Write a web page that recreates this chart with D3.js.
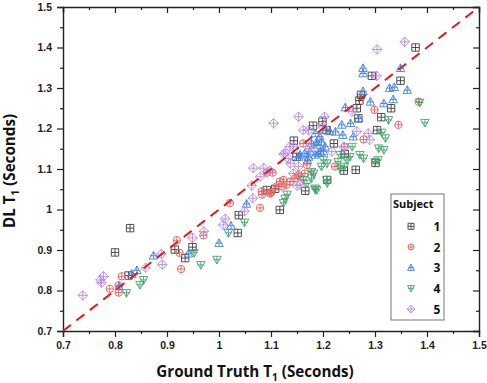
<!DOCTYPE html>
<html>
<head>
<meta charset="utf-8">
<script src="https://cdn.jsdelivr.net/npm/d3@7"></script>
<style>
  body { margin: 0; background: #fff; }
  svg { font-family: "Open Sans", sans-serif; }
  .ticklab { font-size: 10.5px; font-weight: bold; fill: #222; }
  .title { font-size: 15.2px; font-weight: bold; fill: #111; }
  .legend { font-size: 12px; font-weight: bold; fill: #111; }
</style>
</head>
<body>
<svg id="chart" width="487" height="383"></svg>
<script>
// subjects and colours
const subjects = ["1", "2", "3", "4", "5"];
const colors = ["#3c3c3c", "#e8605c", "#4382e0", "#48a46c", "#b48ae6"];
const shapes = ["square", "circle", "up", "down", "diamond"];

const tickValues = [0.7, 0.8, 0.9, 1.0, 1.1, 1.2, 1.3, 1.4, 1.5];
const tickLabels = ["0.7", "0.8", "0.9", "1", "1.1", "1.2", "1.3", "1.4", "1.5"];
const minorValues = [0.75, 0.85, 0.95, 1.05, 1.15, 1.25, 1.35, 1.45];

// [ground truth T1, DL T1]
const subject1 = [[0.800,0.894],[0.829,0.954],[0.826,0.837],[0.915,0.901],[0.935,0.880],[0.949,0.907],
  [1.036,0.942],[1.038,0.986],[1.092,1.048],[1.108,1.051],[1.117,0.999],[1.166,1.046],[1.144,1.170],
  [1.149,1.130],[1.181,1.207],[1.199,1.217],[1.207,1.196],[1.221,1.163],[1.242,1.137],[1.240,1.096],
  [1.263,1.098],[1.208,1.073],[1.301,1.115],[1.304,1.196],[1.312,1.228],[1.331,1.250],[1.265,1.250],
  [1.268,1.225],[1.270,1.269],[1.273,1.283],[1.294,1.330],[1.349,1.318],[1.378,1.400]];
const subject2 = [[0.790,0.804],[0.807,0.795],[0.807,0.813],[0.813,0.835],[0.919,0.924],[0.924,0.893],
  [0.927,0.853],[0.970,0.936],[1.021,1.016],[1.079,1.004],[1.083,1.037],[1.099,1.041],[1.092,1.091],
  [1.103,1.091],[1.082,1.045],[1.101,1.044],[1.117,1.069],[1.130,1.061],[1.137,1.069],[1.146,1.077],
  [1.156,1.081],[1.165,1.089],[1.121,1.057],[1.162,1.163],[1.242,1.155],[1.278,1.173],[1.345,1.209],
  [1.384,1.266],[1.299,1.246],[1.223,1.106],[1.169,1.110],[1.124,1.073],[1.111,1.057],[1.098,1.040],
  [1.153,1.085]];
const subject3 = [[0.808,0.810],[0.832,0.841],[0.842,0.850],[0.874,0.886],[0.941,0.891],[1.000,0.917],
  [1.023,0.960],[1.053,1.014],[1.153,1.130],[1.165,1.139],[1.170,1.122],[1.156,1.135],[1.185,1.135],
  [1.195,1.143],[1.188,1.160],[1.172,1.130],[1.175,1.143],[1.178,1.163],[1.185,1.188],[1.194,1.180],
  [1.197,1.167],[1.188,1.167],[1.204,1.155],[1.201,1.143],[1.191,1.139],[1.205,1.196],[1.224,1.192],
  [1.238,1.184],[1.258,1.180],[1.236,1.209],[1.253,1.213],[1.269,1.225],[1.243,1.252],[1.277,1.292],
  [1.291,1.266],[1.317,1.262],[1.335,1.272],[1.328,1.300],[1.337,1.302],[1.362,1.295],[1.349,1.349],
  [1.277,1.349],[1.277,1.336],[1.213,1.193]];
const subject4 = [[0.822,0.794],[0.848,0.814],[0.855,0.826],[0.952,0.893],[0.965,0.863],[0.996,0.876],
  [1.018,0.942],[1.049,0.968],[1.124,1.016],[1.131,1.037],[1.127,1.027],[1.185,1.049],[1.208,1.065],
  [1.169,1.064],[1.188,1.048],[1.178,1.077],[1.182,1.089],[1.207,1.073],[1.197,1.106],[1.201,1.122],
  [1.208,1.114],[1.233,1.135],[1.229,1.118],[1.233,1.101],[1.241,1.106],[1.246,1.122],[1.256,1.155],
  [1.252,1.130],[1.271,1.135],[1.278,1.126],[1.300,1.118],[1.306,1.122],[1.307,1.151],[1.317,1.147],
  [1.320,1.176],[1.313,1.190],[1.326,1.221],[1.386,1.264],[1.396,1.214],[1.162,1.073],[1.185,1.052],
  [1.178,1.093]];
const subject5 = [[0.738,0.788],[0.772,0.826],[0.778,0.835],[0.774,0.819],[0.859,0.856],[0.891,0.864],
  [0.889,0.890],[0.949,0.930],[0.971,0.946],[1.012,0.977],[1.008,0.962],[1.049,0.996],[1.065,1.028],
  [1.063,1.059],[1.150,1.059],[1.066,1.102],[1.079,1.081],[1.098,1.096],[1.086,1.102],[1.105,1.213],
  [1.153,1.229],[1.124,1.137],[1.136,1.155],[1.127,1.139],[1.143,1.155],[1.137,1.114],[1.153,1.106],
  [1.156,1.061],[1.133,1.126],[1.143,1.089],[1.162,1.196],[1.172,1.196],[1.203,1.229],[1.200,1.204],
  [1.175,1.151],[1.217,1.143],[1.240,1.155],[1.256,1.242],[1.265,1.193],[1.287,1.188],[1.290,1.172],
  [1.303,1.330],[1.304,1.395],[1.357,1.414]];
const series = [subject1, subject2, subject3, subject4, subject5];

const svg = d3.select("#chart");
const xScale = d3.scaleLinear().domain([0.7, 1.5]).range([63, 479]);
const yScale = d3.scaleLinear().domain([0.7, 1.5]).range([331, 7]);

// marker path, open shape with a cross
function marker(shape, r) {
  const p = d3.path();
  if (shape === "square") {
    p.rect(-r, -r, 2 * r, 2 * r);
    p.moveTo(-r, 0); p.lineTo(r, 0); p.moveTo(0, -r); p.lineTo(0, r);
  } else if (shape === "circle") {
    p.moveTo(r, 0); p.arc(0, 0, r, 0, 2 * Math.PI);
    p.moveTo(-r, 0); p.lineTo(r, 0); p.moveTo(0, -r); p.lineTo(0, r);
  } else if (shape === "up" || shape === "down") {
    const s = shape === "up" ? 1 : -1, h = r * 1.15;
    p.moveTo(0, -h * s); p.lineTo(h, h * 0.8 * s); p.lineTo(-h, h * 0.8 * s); p.closePath();
    p.moveTo(-h * 0.85, 0.1 * s); p.lineTo(h * 0.85, 0.1 * s);
    p.moveTo(0, -h * s); p.lineTo(0, h * 0.8 * s);
  } else {
    const h = r * 1.3;
    p.moveTo(0, -h); p.lineTo(h, 0); p.lineTo(0, h); p.lineTo(-h, 0); p.closePath();
    p.moveTo(-h, 0); p.lineTo(h, 0); p.moveTo(0, -h); p.lineTo(0, h);
  }
  return p.toString();
}

// frame and axes
const axisStyle = g => {
  g.select(".domain").attr("stroke", "#222").attr("stroke-width", 1.4);
  g.selectAll(".tick line").attr("stroke", "#222").attr("stroke-width", 1.2);
};
svg.append("g").attr("transform", "translate(0,331)")
  .call(d3.axisBottom(xScale).tickValues(tickValues).tickSize(6).tickPadding(5)
    .tickFormat((d, i) => tickLabels[i]))
  .call(axisStyle)
  .call(g => g.selectAll("text").attr("class", "ticklab").attr("font-family", null).attr("font-size", null));
svg.append("g").attr("transform", "translate(0,331)")
  .call(d3.axisBottom(xScale).tickValues(minorValues).tickSize(3).tickFormat(""))
  .call(axisStyle).call(g => g.select(".domain").remove());
svg.append("g").attr("transform", "translate(63,0)")
  .call(d3.axisLeft(yScale).tickValues(tickValues).tickSize(6).tickPadding(5)
    .tickFormat((d, i) => tickLabels[i]))
  .call(axisStyle)
  .call(g => g.selectAll("text").attr("class", "ticklab").attr("font-family", null).attr("font-size", null));
svg.append("g").attr("transform", "translate(63,0)")
  .call(d3.axisLeft(yScale).tickValues(minorValues).tickSize(3).tickFormat(""))
  .call(axisStyle).call(g => g.select(".domain").remove());
svg.append("g").attr("transform", "translate(0,7)")
  .call(d3.axisTop(xScale).tickValues(tickValues).tickSize(-6).tickFormat(""))
  .call(axisStyle);
svg.append("g").attr("transform", "translate(0,7)")
  .call(d3.axisTop(xScale).tickValues(minorValues).tickSize(-3).tickFormat(""))
  .call(axisStyle).call(g => g.select(".domain").remove());
svg.append("g").attr("transform", "translate(479,0)")
  .call(d3.axisRight(yScale).tickValues(tickValues).tickSize(-6).tickFormat(""))
  .call(axisStyle);
svg.append("g").attr("transform", "translate(479,0)")
  .call(d3.axisRight(yScale).tickValues(minorValues).tickSize(-3).tickFormat(""))
  .call(axisStyle).call(g => g.select(".domain").remove());

// points
series.forEach((data, i) => {
  svg.append("g").selectAll("path").data(data).join("path")
    .attr("transform", d => `translate(${xScale(d[0])},${yScale(d[1])})`)
    .attr("d", marker(shapes[i], 3.7))
    .attr("fill", "none").attr("stroke", colors[i]).attr("stroke-width", 0.9);
});

// identity line
svg.append("line")
  .attr("x1", xScale(0.7)).attr("y1", yScale(0.7)).attr("x2", xScale(1.5)).attr("y2", yScale(1.5))
  .attr("stroke", "#e01c1c").attr("stroke-width", 2).attr("stroke-dasharray", "10,7");

// axis titles
const xt = svg.append("text").attr("class", "title").attr("x", 255).attr("y", 377).attr("text-anchor", "middle");
xt.append("tspan").text("Ground Truth T");
xt.append("tspan").attr("font-size", "10px").attr("dy", 4).text("1");
xt.append("tspan").attr("dy", -4).text(" (Seconds)");
const yt = svg.append("text").attr("class", "title").attr("transform", "translate(15,171) rotate(-90)")
  .attr("text-anchor", "middle");
yt.append("tspan").text("DL T");
yt.append("tspan").attr("font-size", "10px").attr("dy", 4).text("1");
yt.append("tspan").attr("dy", -4).text(" (Seconds)");

// legend
const lg = svg.append("g");
lg.append("rect").attr("x", 391).attr("y", 194).attr("width", 53).attr("height", 126)
  .attr("fill", "#fff").attr("stroke", "#777").attr("stroke-width", 1);
lg.append("text").attr("class", "legend").attr("x", 393).attr("y", 208).style("font-size", "11px").text("Subject");
subjects.forEach((s, i) => {
  const cy = 226.3 + i * 20.7;
  lg.append("path").attr("transform", `translate(411,${cy})`).attr("d", marker(shapes[i], 3))
    .attr("fill", "none").attr("stroke", colors[i]).attr("stroke-width", 0.9);
  lg.append("text").attr("class", "legend").attr("x", 437).attr("y", cy + 4.5)
    .attr("text-anchor", "middle").text(s);
});
</script>
</body>
</html>
